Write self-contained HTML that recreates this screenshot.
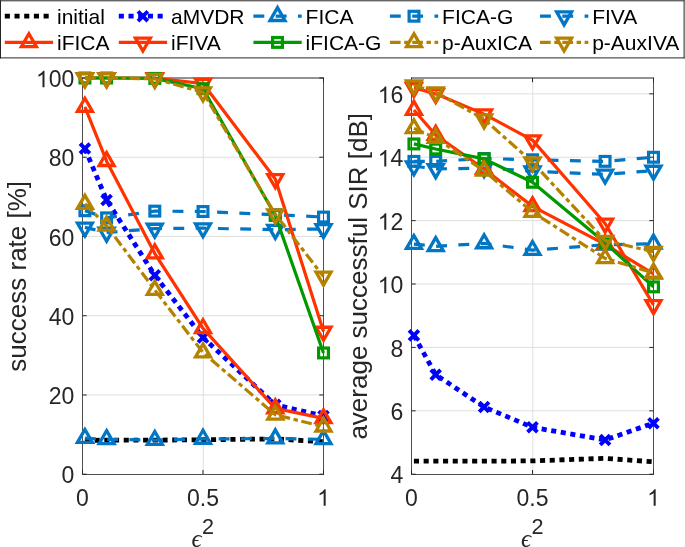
<!DOCTYPE html>
<html><head><meta charset="utf-8"><style>html,body{margin:0;padding:0;background:#fff;}svg{display:block;} text{}</style></head>
<body>
<svg style="filter:grayscale(0.0001)" width="685" height="547" viewBox="0 0 685 547" font-family="Liberation Sans, sans-serif">
<defs><clipPath id="cl"><rect x="82.5" y="78.0" width="241.0" height="396.2"/></clipPath><clipPath id="cr"><rect x="411.5" y="78.0" width="242.0" height="396.2"/></clipPath></defs>
<rect width="685" height="547" fill="#fff"/>
<line x1="82.5" y1="394.96" x2="323.5" y2="394.96" stroke="#DFDFDF" stroke-width="1"/>
<line x1="82.5" y1="315.72" x2="323.5" y2="315.72" stroke="#DFDFDF" stroke-width="1"/>
<line x1="82.5" y1="236.48" x2="323.5" y2="236.48" stroke="#DFDFDF" stroke-width="1"/>
<line x1="82.5" y1="157.24" x2="323.5" y2="157.24" stroke="#DFDFDF" stroke-width="1"/>
<line x1="203.30" y1="78.0" x2="203.30" y2="474.2" stroke="#DFDFDF" stroke-width="1"/>
<line x1="411.5" y1="410.81" x2="653.5" y2="410.81" stroke="#DFDFDF" stroke-width="1"/>
<line x1="411.5" y1="347.42" x2="653.5" y2="347.42" stroke="#DFDFDF" stroke-width="1"/>
<line x1="411.5" y1="284.02" x2="653.5" y2="284.02" stroke="#DFDFDF" stroke-width="1"/>
<line x1="411.5" y1="220.63" x2="653.5" y2="220.63" stroke="#DFDFDF" stroke-width="1"/>
<line x1="411.5" y1="157.24" x2="653.5" y2="157.24" stroke="#DFDFDF" stroke-width="1"/>
<line x1="411.5" y1="93.85" x2="653.5" y2="93.85" stroke="#DFDFDF" stroke-width="1"/>
<line x1="532.80" y1="78.0" x2="532.80" y2="474.2" stroke="#DFDFDF" stroke-width="1"/>
<line x1="82.0" y1="78.0" x2="324.0" y2="78.0" stroke="#262626" stroke-width="1"/>
<line x1="82.0" y1="474.5" x2="324.0" y2="474.5" stroke="#4F4F4F" stroke-width="1"/>
<line x1="82.5" y1="77.5" x2="82.5" y2="475" stroke="#4F4F4F" stroke-width="1"/>
<line x1="323.5" y1="77.5" x2="323.5" y2="475" stroke="#4F4F4F" stroke-width="1"/>
<line x1="82.5" y1="474.20" x2="86.7" y2="474.20" stroke="#262626" stroke-width="1"/>
<line x1="323.5" y1="474.20" x2="319.3" y2="474.20" stroke="#262626" stroke-width="1"/>
<line x1="82.5" y1="394.96" x2="86.7" y2="394.96" stroke="#262626" stroke-width="1"/>
<line x1="323.5" y1="394.96" x2="319.3" y2="394.96" stroke="#262626" stroke-width="1"/>
<line x1="82.5" y1="315.72" x2="86.7" y2="315.72" stroke="#262626" stroke-width="1"/>
<line x1="323.5" y1="315.72" x2="319.3" y2="315.72" stroke="#262626" stroke-width="1"/>
<line x1="82.5" y1="236.48" x2="86.7" y2="236.48" stroke="#262626" stroke-width="1"/>
<line x1="323.5" y1="236.48" x2="319.3" y2="236.48" stroke="#262626" stroke-width="1"/>
<line x1="82.5" y1="157.24" x2="86.7" y2="157.24" stroke="#262626" stroke-width="1"/>
<line x1="323.5" y1="157.24" x2="319.3" y2="157.24" stroke="#262626" stroke-width="1"/>
<line x1="82.5" y1="78.00" x2="86.7" y2="78.00" stroke="#262626" stroke-width="1"/>
<line x1="323.5" y1="78.00" x2="319.3" y2="78.00" stroke="#262626" stroke-width="1"/>
<line x1="82.50" y1="474.2" x2="82.50" y2="470.0" stroke="#262626" stroke-width="1"/>
<line x1="82.50" y1="78.0" x2="82.50" y2="82.2" stroke="#262626" stroke-width="1"/>
<line x1="203.00" y1="474.2" x2="203.00" y2="470.0" stroke="#262626" stroke-width="1"/>
<line x1="203.00" y1="78.0" x2="203.00" y2="82.2" stroke="#262626" stroke-width="1"/>
<line x1="323.50" y1="474.2" x2="323.50" y2="470.0" stroke="#262626" stroke-width="1"/>
<line x1="323.50" y1="78.0" x2="323.50" y2="82.2" stroke="#262626" stroke-width="1"/>
<text x="61.51" y="483.40" font-size="23" fill="#262626">0</text>
<text x="48.72" y="404.16" font-size="23" fill="#262626">20</text>
<text x="48.72" y="324.92" font-size="23" fill="#262626">40</text>
<text x="48.72" y="245.68" font-size="23" fill="#262626">60</text>
<text x="48.72" y="166.44" font-size="23" fill="#262626">80</text>
<path transform="translate(35.93,87.20) scale(0.011230,-0.011230)" d="M763 0L583 0L583 1147Q518 1085 412 1023Q307 961 223 930L223 1104Q374 1175 487 1276Q600 1377 647 1472L763 1472Z" fill="#262626"/><text x="48.72" y="87.20" font-size="23" fill="#262626">00</text>
<text x="76.10" y="505.80" font-size="23" fill="#262626">0</text>
<text x="187.01" y="505.80" font-size="23" fill="#262626">0.5</text>
<path transform="translate(317.10,505.80) scale(0.011230,-0.011230)" d="M763 0L583 0L583 1147Q518 1085 412 1023Q307 961 223 930L223 1104Q374 1175 487 1276Q600 1377 647 1472L763 1472Z" fill="#262626"/>
<line x1="411.0" y1="78.0" x2="654.0" y2="78.0" stroke="#262626" stroke-width="1"/>
<line x1="411.0" y1="474.5" x2="654.0" y2="474.5" stroke="#4F4F4F" stroke-width="1"/>
<line x1="411.5" y1="77.5" x2="411.5" y2="475" stroke="#4F4F4F" stroke-width="1"/>
<line x1="653.5" y1="77.5" x2="653.5" y2="475" stroke="#4F4F4F" stroke-width="1"/>
<line x1="411.5" y1="474.20" x2="415.7" y2="474.20" stroke="#262626" stroke-width="1"/>
<line x1="653.5" y1="474.20" x2="649.3" y2="474.20" stroke="#262626" stroke-width="1"/>
<line x1="411.5" y1="410.81" x2="415.7" y2="410.81" stroke="#262626" stroke-width="1"/>
<line x1="653.5" y1="410.81" x2="649.3" y2="410.81" stroke="#262626" stroke-width="1"/>
<line x1="411.5" y1="347.42" x2="415.7" y2="347.42" stroke="#262626" stroke-width="1"/>
<line x1="653.5" y1="347.42" x2="649.3" y2="347.42" stroke="#262626" stroke-width="1"/>
<line x1="411.5" y1="284.02" x2="415.7" y2="284.02" stroke="#262626" stroke-width="1"/>
<line x1="653.5" y1="284.02" x2="649.3" y2="284.02" stroke="#262626" stroke-width="1"/>
<line x1="411.5" y1="220.63" x2="415.7" y2="220.63" stroke="#262626" stroke-width="1"/>
<line x1="653.5" y1="220.63" x2="649.3" y2="220.63" stroke="#262626" stroke-width="1"/>
<line x1="411.5" y1="157.24" x2="415.7" y2="157.24" stroke="#262626" stroke-width="1"/>
<line x1="653.5" y1="157.24" x2="649.3" y2="157.24" stroke="#262626" stroke-width="1"/>
<line x1="411.5" y1="93.85" x2="415.7" y2="93.85" stroke="#262626" stroke-width="1"/>
<line x1="653.5" y1="93.85" x2="649.3" y2="93.85" stroke="#262626" stroke-width="1"/>
<line x1="411.50" y1="474.2" x2="411.50" y2="470.0" stroke="#262626" stroke-width="1"/>
<line x1="411.50" y1="78.0" x2="411.50" y2="82.2" stroke="#262626" stroke-width="1"/>
<line x1="532.50" y1="474.2" x2="532.50" y2="470.0" stroke="#262626" stroke-width="1"/>
<line x1="532.50" y1="78.0" x2="532.50" y2="82.2" stroke="#262626" stroke-width="1"/>
<line x1="653.50" y1="474.2" x2="653.50" y2="470.0" stroke="#262626" stroke-width="1"/>
<line x1="653.50" y1="78.0" x2="653.50" y2="82.2" stroke="#262626" stroke-width="1"/>
<text x="390.51" y="483.40" font-size="23" fill="#262626">4</text>
<text x="390.51" y="420.01" font-size="23" fill="#262626">6</text>
<text x="390.51" y="356.62" font-size="23" fill="#262626">8</text>
<path transform="translate(377.72,293.22) scale(0.011230,-0.011230)" d="M763 0L583 0L583 1147Q518 1085 412 1023Q307 961 223 930L223 1104Q374 1175 487 1276Q600 1377 647 1472L763 1472Z" fill="#262626"/><text x="390.51" y="293.22" font-size="23" fill="#262626">0</text>
<path transform="translate(377.72,229.83) scale(0.011230,-0.011230)" d="M763 0L583 0L583 1147Q518 1085 412 1023Q307 961 223 930L223 1104Q374 1175 487 1276Q600 1377 647 1472L763 1472Z" fill="#262626"/><text x="390.51" y="229.83" font-size="23" fill="#262626">2</text>
<path transform="translate(377.72,166.44) scale(0.011230,-0.011230)" d="M763 0L583 0L583 1147Q518 1085 412 1023Q307 961 223 930L223 1104Q374 1175 487 1276Q600 1377 647 1472L763 1472Z" fill="#262626"/><text x="390.51" y="166.44" font-size="23" fill="#262626">4</text>
<path transform="translate(377.72,103.05) scale(0.011230,-0.011230)" d="M763 0L583 0L583 1147Q518 1085 412 1023Q307 961 223 930L223 1104Q374 1175 487 1276Q600 1377 647 1472L763 1472Z" fill="#262626"/><text x="390.51" y="103.05" font-size="23" fill="#262626">6</text>
<text x="405.10" y="505.80" font-size="23" fill="#262626">0</text>
<text x="516.51" y="505.80" font-size="23" fill="#262626">0.5</text>
<path transform="translate(647.10,505.80) scale(0.011230,-0.011230)" d="M763 0L583 0L583 1147Q518 1085 412 1023Q307 961 223 930L223 1104Q374 1175 487 1276Q600 1377 647 1472L763 1472Z" fill="#262626"/>
<polyline points="84.91,440.52 106.60,440.13 154.80,440.13 203.00,439.73 275.30,438.94 323.50,441.71" fill="none" stroke="#000000" stroke-width="4.8" stroke-dasharray="5.1 4.6" stroke-linejoin="round"/>
<polyline points="84.91,148.52 106.60,200.03 154.80,275.31 203.00,337.51 275.30,404.87 323.50,415.96" fill="none" stroke="#0000FF" stroke-width="4.8" stroke-dasharray="5.1 4.6" stroke-linejoin="round"/>
<path d="M80.01,143.62L89.81,153.42M89.81,143.62L80.01,153.42" stroke="#0000FF" stroke-width="3.9" fill="none"/>
<path d="M101.70,195.13L111.50,204.93M111.50,195.13L101.70,204.93" stroke="#0000FF" stroke-width="3.9" fill="none"/>
<path d="M149.90,270.41L159.70,280.21M159.70,270.41L149.90,280.21" stroke="#0000FF" stroke-width="3.9" fill="none"/>
<path d="M198.10,332.61L207.90,342.41M207.90,332.61L198.10,342.41" stroke="#0000FF" stroke-width="3.9" fill="none"/>
<path d="M270.40,399.97L280.20,409.76M280.20,399.97L270.40,409.76" stroke="#0000FF" stroke-width="3.9" fill="none"/>
<path d="M318.60,411.06L328.40,420.86M328.40,411.06L318.60,420.86" stroke="#0000FF" stroke-width="3.9" fill="none"/>
<polyline points="84.91,438.15 106.60,439.33 154.80,440.13 203.00,438.94 275.30,438.54 323.50,439.33" fill="none" stroke="#0076C4" stroke-width="3.2" stroke-dasharray="10.9 11.4" stroke-linejoin="round"/>
<path d="M84.91,429.51L92.39,442.47L77.43,442.47Z" fill="none" stroke="#0076C4" stroke-width="3.3" stroke-linejoin="miter" stroke-miterlimit="10"/>
<path d="M106.60,430.69L114.08,443.65L99.12,443.65Z" fill="none" stroke="#0076C4" stroke-width="3.3" stroke-linejoin="miter" stroke-miterlimit="10"/>
<path d="M154.80,431.49L162.28,444.45L147.32,444.45Z" fill="none" stroke="#0076C4" stroke-width="3.3" stroke-linejoin="miter" stroke-miterlimit="10"/>
<path d="M203.00,430.30L210.48,443.26L195.52,443.26Z" fill="none" stroke="#0076C4" stroke-width="3.3" stroke-linejoin="miter" stroke-miterlimit="10"/>
<path d="M275.30,429.90L282.78,442.86L267.82,442.86Z" fill="none" stroke="#0076C4" stroke-width="3.3" stroke-linejoin="miter" stroke-miterlimit="10"/>
<path d="M323.50,430.69L330.98,443.65L316.02,443.65Z" fill="none" stroke="#0076C4" stroke-width="3.3" stroke-linejoin="miter" stroke-miterlimit="10"/>
<polyline points="84.91,210.73 106.60,217.86 154.80,211.12 203.00,211.52 275.30,214.69 323.50,217.07" fill="none" stroke="#0076C4" stroke-width="3.2" stroke-dasharray="10.9 11.4" stroke-linejoin="round"/>
<rect x="80.01" y="205.83" width="9.80" height="9.80" fill="none" stroke="#0076C4" stroke-width="3.2"/>
<rect x="101.70" y="212.96" width="9.80" height="9.80" fill="none" stroke="#0076C4" stroke-width="3.2"/>
<rect x="149.90" y="206.22" width="9.80" height="9.80" fill="none" stroke="#0076C4" stroke-width="3.2"/>
<rect x="198.10" y="206.62" width="9.80" height="9.80" fill="none" stroke="#0076C4" stroke-width="3.2"/>
<rect x="270.40" y="209.79" width="9.80" height="9.80" fill="none" stroke="#0076C4" stroke-width="3.2"/>
<rect x="318.60" y="212.17" width="9.80" height="9.80" fill="none" stroke="#0076C4" stroke-width="3.2"/>
<polyline points="84.91,227.37 106.60,232.52 154.80,228.56 203.00,228.16 275.30,229.74 323.50,228.95" fill="none" stroke="#0076C4" stroke-width="3.2" stroke-dasharray="10.9 11.4" stroke-linejoin="round"/>
<path d="M84.91,236.01L92.39,223.05L77.43,223.05Z" fill="none" stroke="#0076C4" stroke-width="3.3" stroke-linejoin="miter" stroke-miterlimit="10"/>
<path d="M106.60,241.16L114.08,228.20L99.12,228.20Z" fill="none" stroke="#0076C4" stroke-width="3.3" stroke-linejoin="miter" stroke-miterlimit="10"/>
<path d="M154.80,237.20L162.28,224.24L147.32,224.24Z" fill="none" stroke="#0076C4" stroke-width="3.3" stroke-linejoin="miter" stroke-miterlimit="10"/>
<path d="M203.00,236.80L210.48,223.84L195.52,223.84Z" fill="none" stroke="#0076C4" stroke-width="3.3" stroke-linejoin="miter" stroke-miterlimit="10"/>
<path d="M275.30,238.38L282.78,225.42L267.82,225.42Z" fill="none" stroke="#0076C4" stroke-width="3.3" stroke-linejoin="miter" stroke-miterlimit="10"/>
<path d="M323.50,237.59L330.98,224.63L316.02,224.63Z" fill="none" stroke="#0076C4" stroke-width="3.3" stroke-linejoin="miter" stroke-miterlimit="10"/>
<polyline points="84.91,106.92 106.60,161.20 154.80,253.52 203.00,328.40 275.30,408.43 323.50,418.34" fill="none" stroke="#FF3300" stroke-width="3.2"  stroke-linejoin="round"/>
<path d="M84.91,98.28L92.39,111.24L77.43,111.24Z" fill="none" stroke="#FF3300" stroke-width="3.3" stroke-linejoin="miter" stroke-miterlimit="10"/>
<path d="M106.60,152.56L114.08,165.52L99.12,165.52Z" fill="none" stroke="#FF3300" stroke-width="3.3" stroke-linejoin="miter" stroke-miterlimit="10"/>
<path d="M154.80,244.88L162.28,257.84L147.32,257.84Z" fill="none" stroke="#FF3300" stroke-width="3.3" stroke-linejoin="miter" stroke-miterlimit="10"/>
<path d="M203.00,319.76L210.48,332.72L195.52,332.72Z" fill="none" stroke="#FF3300" stroke-width="3.3" stroke-linejoin="miter" stroke-miterlimit="10"/>
<path d="M275.30,399.79L282.78,412.75L267.82,412.75Z" fill="none" stroke="#FF3300" stroke-width="3.3" stroke-linejoin="miter" stroke-miterlimit="10"/>
<path d="M323.50,409.70L330.98,422.66L316.02,422.66Z" fill="none" stroke="#FF3300" stroke-width="3.3" stroke-linejoin="miter" stroke-miterlimit="10"/>
<polyline points="84.91,78.00 106.60,78.00 154.80,78.00 203.00,83.55 275.30,179.03 323.50,331.57" fill="none" stroke="#FF3300" stroke-width="3.2"  stroke-linejoin="round"/>
<path d="M84.91,86.64L92.39,73.68L77.43,73.68Z" fill="none" stroke="#FF3300" stroke-width="3.3" stroke-linejoin="miter" stroke-miterlimit="10"/>
<path d="M106.60,86.64L114.08,73.68L99.12,73.68Z" fill="none" stroke="#FF3300" stroke-width="3.3" stroke-linejoin="miter" stroke-miterlimit="10"/>
<path d="M154.80,86.64L162.28,73.68L147.32,73.68Z" fill="none" stroke="#FF3300" stroke-width="3.3" stroke-linejoin="miter" stroke-miterlimit="10"/>
<path d="M203.00,92.19L210.48,79.23L195.52,79.23Z" fill="none" stroke="#FF3300" stroke-width="3.3" stroke-linejoin="miter" stroke-miterlimit="10"/>
<path d="M275.30,187.67L282.78,174.71L267.82,174.71Z" fill="none" stroke="#FF3300" stroke-width="3.3" stroke-linejoin="miter" stroke-miterlimit="10"/>
<path d="M323.50,340.21L330.98,327.25L316.02,327.25Z" fill="none" stroke="#FF3300" stroke-width="3.3" stroke-linejoin="miter" stroke-miterlimit="10"/>
<polyline points="84.91,78.00 106.60,78.00 154.80,78.40 203.00,88.70 275.30,215.48 323.50,352.96" fill="none" stroke="#009900" stroke-width="3.2"  stroke-linejoin="round"/>
<rect x="80.01" y="73.10" width="9.80" height="9.80" fill="none" stroke="#009900" stroke-width="3.2"/>
<rect x="101.70" y="73.10" width="9.80" height="9.80" fill="none" stroke="#009900" stroke-width="3.2"/>
<rect x="149.90" y="73.50" width="9.80" height="9.80" fill="none" stroke="#009900" stroke-width="3.2"/>
<rect x="198.10" y="83.80" width="9.80" height="9.80" fill="none" stroke="#009900" stroke-width="3.2"/>
<rect x="270.40" y="210.58" width="9.80" height="9.80" fill="none" stroke="#009900" stroke-width="3.2"/>
<rect x="318.60" y="348.06" width="9.80" height="9.80" fill="none" stroke="#009900" stroke-width="3.2"/>
<polyline points="84.91,203.99 106.60,225.78 154.80,289.97 203.00,352.57 275.30,414.77 323.50,426.66" fill="none" stroke="#B58200" stroke-width="3.2" stroke-dasharray="10.7 3.6 4.4 3.6" stroke-linejoin="round"/>
<path d="M84.91,195.35L92.39,208.31L77.43,208.31Z" fill="none" stroke="#B58200" stroke-width="3.3" stroke-linejoin="miter" stroke-miterlimit="10"/>
<path d="M106.60,217.14L114.08,230.10L99.12,230.10Z" fill="none" stroke="#B58200" stroke-width="3.3" stroke-linejoin="miter" stroke-miterlimit="10"/>
<path d="M154.80,281.33L162.28,294.29L147.32,294.29Z" fill="none" stroke="#B58200" stroke-width="3.3" stroke-linejoin="miter" stroke-miterlimit="10"/>
<path d="M203.00,343.93L210.48,356.89L195.52,356.89Z" fill="none" stroke="#B58200" stroke-width="3.3" stroke-linejoin="miter" stroke-miterlimit="10"/>
<path d="M275.30,406.13L282.78,419.09L267.82,419.09Z" fill="none" stroke="#B58200" stroke-width="3.3" stroke-linejoin="miter" stroke-miterlimit="10"/>
<path d="M323.50,418.02L330.98,430.98L316.02,430.98Z" fill="none" stroke="#B58200" stroke-width="3.3" stroke-linejoin="miter" stroke-miterlimit="10"/>
<polyline points="84.91,78.00 106.60,78.00 154.80,78.79 203.00,92.26 275.30,214.29 323.50,276.50" fill="none" stroke="#B58200" stroke-width="3.2" stroke-dasharray="10.7 3.6 4.4 3.6" stroke-linejoin="round"/>
<path d="M84.91,86.64L92.39,73.68L77.43,73.68Z" fill="none" stroke="#B58200" stroke-width="3.3" stroke-linejoin="miter" stroke-miterlimit="10"/>
<path d="M106.60,86.64L114.08,73.68L99.12,73.68Z" fill="none" stroke="#B58200" stroke-width="3.3" stroke-linejoin="miter" stroke-miterlimit="10"/>
<path d="M154.80,87.43L162.28,74.47L147.32,74.47Z" fill="none" stroke="#B58200" stroke-width="3.3" stroke-linejoin="miter" stroke-miterlimit="10"/>
<path d="M203.00,100.90L210.48,87.94L195.52,87.94Z" fill="none" stroke="#B58200" stroke-width="3.3" stroke-linejoin="miter" stroke-miterlimit="10"/>
<path d="M275.30,222.93L282.78,209.97L267.82,209.97Z" fill="none" stroke="#B58200" stroke-width="3.3" stroke-linejoin="miter" stroke-miterlimit="10"/>
<path d="M323.50,285.14L330.98,272.18L316.02,272.18Z" fill="none" stroke="#B58200" stroke-width="3.3" stroke-linejoin="miter" stroke-miterlimit="10"/>
<polyline points="413.92,461.20 435.70,461.20 484.10,461.20 532.50,460.89 605.10,458.35 653.50,461.84" fill="none" stroke="#000000" stroke-width="4.8" stroke-dasharray="5.1 4.6" stroke-linejoin="round"/>
<polyline points="413.92,335.37 435.70,374.67 484.10,407.00 532.50,427.29 605.10,439.97 653.50,423.17" fill="none" stroke="#0000FF" stroke-width="4.8" stroke-dasharray="5.1 4.6" stroke-linejoin="round"/>
<path d="M409.02,330.47L418.82,340.27M418.82,330.47L409.02,340.27" stroke="#0000FF" stroke-width="3.9" fill="none"/>
<path d="M430.80,369.77L440.60,379.57M440.60,369.77L430.80,379.57" stroke="#0000FF" stroke-width="3.9" fill="none"/>
<path d="M479.20,402.10L489.00,411.90M489.00,402.10L479.20,411.90" stroke="#0000FF" stroke-width="3.9" fill="none"/>
<path d="M527.60,422.39L537.40,432.19M537.40,422.39L527.60,432.19" stroke="#0000FF" stroke-width="3.9" fill="none"/>
<path d="M600.20,435.07L610.00,444.87M610.00,435.07L600.20,444.87" stroke="#0000FF" stroke-width="3.9" fill="none"/>
<path d="M648.60,418.27L658.40,428.07M658.40,418.27L648.60,428.07" stroke="#0000FF" stroke-width="3.9" fill="none"/>
<polyline points="413.92,244.09 435.70,246.31 484.10,243.45 532.50,250.11 605.10,244.72 653.50,243.77" fill="none" stroke="#0076C4" stroke-width="3.2" stroke-dasharray="10.9 11.4" stroke-linejoin="round"/>
<path d="M413.92,235.45L421.40,248.41L406.44,248.41Z" fill="none" stroke="#0076C4" stroke-width="3.3" stroke-linejoin="miter" stroke-miterlimit="10"/>
<path d="M435.70,237.67L443.18,250.63L428.22,250.63Z" fill="none" stroke="#0076C4" stroke-width="3.3" stroke-linejoin="miter" stroke-miterlimit="10"/>
<path d="M484.10,234.81L491.58,247.77L476.62,247.77Z" fill="none" stroke="#0076C4" stroke-width="3.3" stroke-linejoin="miter" stroke-miterlimit="10"/>
<path d="M532.50,241.47L539.98,254.43L525.02,254.43Z" fill="none" stroke="#0076C4" stroke-width="3.3" stroke-linejoin="miter" stroke-miterlimit="10"/>
<path d="M605.10,236.08L612.58,249.04L597.62,249.04Z" fill="none" stroke="#0076C4" stroke-width="3.3" stroke-linejoin="miter" stroke-miterlimit="10"/>
<path d="M653.50,235.13L660.98,248.09L646.02,248.09Z" fill="none" stroke="#0076C4" stroke-width="3.3" stroke-linejoin="miter" stroke-miterlimit="10"/>
<polyline points="413.92,161.36 435.70,161.36 484.10,158.51 532.50,159.78 605.10,161.36 653.50,157.24" fill="none" stroke="#0076C4" stroke-width="3.2" stroke-dasharray="10.9 11.4" stroke-linejoin="round"/>
<rect x="409.02" y="156.46" width="9.80" height="9.80" fill="none" stroke="#0076C4" stroke-width="3.2"/>
<rect x="430.80" y="156.46" width="9.80" height="9.80" fill="none" stroke="#0076C4" stroke-width="3.2"/>
<rect x="479.20" y="153.61" width="9.80" height="9.80" fill="none" stroke="#0076C4" stroke-width="3.2"/>
<rect x="527.60" y="154.88" width="9.80" height="9.80" fill="none" stroke="#0076C4" stroke-width="3.2"/>
<rect x="600.20" y="156.46" width="9.80" height="9.80" fill="none" stroke="#0076C4" stroke-width="3.2"/>
<rect x="648.60" y="152.34" width="9.80" height="9.80" fill="none" stroke="#0076C4" stroke-width="3.2"/>
<polyline points="413.92,166.11 435.70,168.97 484.10,168.02 532.50,171.19 605.10,174.36 653.50,170.55" fill="none" stroke="#0076C4" stroke-width="3.2" stroke-dasharray="10.9 11.4" stroke-linejoin="round"/>
<path d="M413.92,174.75L421.40,161.79L406.44,161.79Z" fill="none" stroke="#0076C4" stroke-width="3.3" stroke-linejoin="miter" stroke-miterlimit="10"/>
<path d="M435.70,177.61L443.18,164.65L428.22,164.65Z" fill="none" stroke="#0076C4" stroke-width="3.3" stroke-linejoin="miter" stroke-miterlimit="10"/>
<path d="M484.10,176.66L491.58,163.70L476.62,163.70Z" fill="none" stroke="#0076C4" stroke-width="3.3" stroke-linejoin="miter" stroke-miterlimit="10"/>
<path d="M532.50,179.83L539.98,166.87L525.02,166.87Z" fill="none" stroke="#0076C4" stroke-width="3.3" stroke-linejoin="miter" stroke-miterlimit="10"/>
<path d="M605.10,183.00L612.58,170.04L597.62,170.04Z" fill="none" stroke="#0076C4" stroke-width="3.3" stroke-linejoin="miter" stroke-miterlimit="10"/>
<path d="M653.50,179.19L660.98,166.23L646.02,166.23Z" fill="none" stroke="#0076C4" stroke-width="3.3" stroke-linejoin="miter" stroke-miterlimit="10"/>
<polyline points="413.92,110.01 435.70,135.05 484.10,168.97 532.50,206.37 605.10,244.40 653.50,273.88" fill="none" stroke="#FF3300" stroke-width="3.2"  stroke-linejoin="round"/>
<path d="M413.92,101.37L421.40,114.33L406.44,114.33Z" fill="none" stroke="#FF3300" stroke-width="3.3" stroke-linejoin="miter" stroke-miterlimit="10"/>
<path d="M435.70,126.41L443.18,139.37L428.22,139.37Z" fill="none" stroke="#FF3300" stroke-width="3.3" stroke-linejoin="miter" stroke-miterlimit="10"/>
<path d="M484.10,160.33L491.58,173.29L476.62,173.29Z" fill="none" stroke="#FF3300" stroke-width="3.3" stroke-linejoin="miter" stroke-miterlimit="10"/>
<path d="M532.50,197.73L539.98,210.69L525.02,210.69Z" fill="none" stroke="#FF3300" stroke-width="3.3" stroke-linejoin="miter" stroke-miterlimit="10"/>
<path d="M605.10,235.76L612.58,248.72L597.62,248.72Z" fill="none" stroke="#FF3300" stroke-width="3.3" stroke-linejoin="miter" stroke-miterlimit="10"/>
<path d="M653.50,265.24L660.98,278.20L646.02,278.20Z" fill="none" stroke="#FF3300" stroke-width="3.3" stroke-linejoin="miter" stroke-miterlimit="10"/>
<polyline points="413.92,87.83 435.70,93.85 484.10,114.13 532.50,140.12 605.10,223.48 653.50,304.94" fill="none" stroke="#FF3300" stroke-width="3.2"  stroke-linejoin="round"/>
<path d="M413.92,96.47L421.40,83.51L406.44,83.51Z" fill="none" stroke="#FF3300" stroke-width="3.3" stroke-linejoin="miter" stroke-miterlimit="10"/>
<path d="M435.70,102.49L443.18,89.53L428.22,89.53Z" fill="none" stroke="#FF3300" stroke-width="3.3" stroke-linejoin="miter" stroke-miterlimit="10"/>
<path d="M484.10,122.77L491.58,109.81L476.62,109.81Z" fill="none" stroke="#FF3300" stroke-width="3.3" stroke-linejoin="miter" stroke-miterlimit="10"/>
<path d="M532.50,148.76L539.98,135.80L525.02,135.80Z" fill="none" stroke="#FF3300" stroke-width="3.3" stroke-linejoin="miter" stroke-miterlimit="10"/>
<path d="M605.10,232.12L612.58,219.16L597.62,219.16Z" fill="none" stroke="#FF3300" stroke-width="3.3" stroke-linejoin="miter" stroke-miterlimit="10"/>
<path d="M653.50,313.58L660.98,300.62L646.02,300.62Z" fill="none" stroke="#FF3300" stroke-width="3.3" stroke-linejoin="miter" stroke-miterlimit="10"/>
<polyline points="413.92,143.93 435.70,149.00 484.10,158.82 532.50,182.28 605.10,242.82 653.50,286.88" fill="none" stroke="#009900" stroke-width="3.2"  stroke-linejoin="round"/>
<rect x="409.02" y="139.03" width="9.80" height="9.80" fill="none" stroke="#009900" stroke-width="3.2"/>
<rect x="430.80" y="144.10" width="9.80" height="9.80" fill="none" stroke="#009900" stroke-width="3.2"/>
<rect x="479.20" y="153.92" width="9.80" height="9.80" fill="none" stroke="#009900" stroke-width="3.2"/>
<rect x="527.60" y="177.38" width="9.80" height="9.80" fill="none" stroke="#009900" stroke-width="3.2"/>
<rect x="600.20" y="237.92" width="9.80" height="9.80" fill="none" stroke="#009900" stroke-width="3.2"/>
<rect x="648.60" y="281.98" width="9.80" height="9.80" fill="none" stroke="#009900" stroke-width="3.2"/>
<polyline points="413.92,128.40 435.70,137.91 484.10,170.87 532.50,212.07 605.10,258.35 653.50,272.93" fill="none" stroke="#B58200" stroke-width="3.2" stroke-dasharray="10.7 3.6 4.4 3.6" stroke-linejoin="round"/>
<path d="M413.92,119.76L421.40,132.72L406.44,132.72Z" fill="none" stroke="#B58200" stroke-width="3.3" stroke-linejoin="miter" stroke-miterlimit="10"/>
<path d="M435.70,129.27L443.18,142.23L428.22,142.23Z" fill="none" stroke="#B58200" stroke-width="3.3" stroke-linejoin="miter" stroke-miterlimit="10"/>
<path d="M484.10,162.23L491.58,175.19L476.62,175.19Z" fill="none" stroke="#B58200" stroke-width="3.3" stroke-linejoin="miter" stroke-miterlimit="10"/>
<path d="M532.50,203.43L539.98,216.39L525.02,216.39Z" fill="none" stroke="#B58200" stroke-width="3.3" stroke-linejoin="miter" stroke-miterlimit="10"/>
<path d="M605.10,249.71L612.58,262.67L597.62,262.67Z" fill="none" stroke="#B58200" stroke-width="3.3" stroke-linejoin="miter" stroke-miterlimit="10"/>
<path d="M653.50,264.29L660.98,277.25L646.02,277.25Z" fill="none" stroke="#B58200" stroke-width="3.3" stroke-linejoin="miter" stroke-miterlimit="10"/>
<polyline points="413.92,85.29 435.70,92.26 484.10,119.20 532.50,162.31 605.10,240.60 653.50,251.69" fill="none" stroke="#B58200" stroke-width="3.2" stroke-dasharray="10.7 3.6 4.4 3.6" stroke-linejoin="round"/>
<path d="M413.92,93.93L421.40,80.97L406.44,80.97Z" fill="none" stroke="#B58200" stroke-width="3.3" stroke-linejoin="miter" stroke-miterlimit="10"/>
<path d="M435.70,100.90L443.18,87.94L428.22,87.94Z" fill="none" stroke="#B58200" stroke-width="3.3" stroke-linejoin="miter" stroke-miterlimit="10"/>
<path d="M484.10,127.84L491.58,114.88L476.62,114.88Z" fill="none" stroke="#B58200" stroke-width="3.3" stroke-linejoin="miter" stroke-miterlimit="10"/>
<path d="M532.50,170.95L539.98,157.99L525.02,157.99Z" fill="none" stroke="#B58200" stroke-width="3.3" stroke-linejoin="miter" stroke-miterlimit="10"/>
<path d="M605.10,249.24L612.58,236.28L597.62,236.28Z" fill="none" stroke="#B58200" stroke-width="3.3" stroke-linejoin="miter" stroke-miterlimit="10"/>
<path d="M653.50,260.33L660.98,247.37L646.02,247.37Z" fill="none" stroke="#B58200" stroke-width="3.3" stroke-linejoin="miter" stroke-miterlimit="10"/>
<text transform="translate(26.3,276.3) rotate(-90)" text-anchor="middle" font-size="26" fill="#262626">success rate [%]</text>
<text transform="translate(367.4,276.3) rotate(-90)" text-anchor="middle" font-size="26" fill="#262626">average successful SIR [dB]</text>
<text x="191.5" y="547.0" font-size="25" font-family="Liberation Serif" font-style="italic" fill="#262626">&#x3F5;</text><text x="202.0" y="533.9" font-size="21.6" fill="#262626">2</text>
<text x="521.0" y="547.0" font-size="25" font-family="Liberation Serif" font-style="italic" fill="#262626">&#x3F5;</text><text x="531.5" y="533.9" font-size="21.6" fill="#262626">2</text>
<rect x="0.5" y="0.8" width="683.6" height="57.1" fill="#fff"/>
<line x1="0" y1="0.8" x2="684.6" y2="0.8" stroke="#262626" stroke-width="1"/>
<line x1="0" y1="57.9" x2="684.6" y2="57.9" stroke="#262626" stroke-width="1"/>
<line x1="0.5" y1="0.3" x2="0.5" y2="58.4" stroke="#262626" stroke-width="1"/>
<line x1="684.1" y1="0.3" x2="684.1" y2="58.4" stroke="#262626" stroke-width="1"/>
<line x1="4.8" y1="16.2" x2="49.4" y2="16.2" stroke="#000000" stroke-width="4.8" stroke-dasharray="5.1 4.6"/>
<text x="57.0" y="24.2" font-size="21" fill="#000">initial</text>
<line x1="118.8" y1="16.2" x2="163.4" y2="16.2" stroke="#0000FF" stroke-width="4.8" stroke-dasharray="5.1 4.6"/>
<path d="M138.00,11.30L147.80,21.10M147.80,11.30L138.00,21.10" stroke="#0000FF" stroke-width="3.9" fill="none"/>
<text x="171.0" y="24.2" font-size="21" fill="#000">aMVDR</text>
<line x1="253.4" y1="16.2" x2="301.7" y2="16.2" stroke="#0076C4" stroke-width="3.2" stroke-dasharray="10.9 11.4"/>
<path d="M277.50,7.56L284.98,20.52L270.02,20.52Z" fill="none" stroke="#0076C4" stroke-width="3.3" stroke-linejoin="miter" stroke-miterlimit="10"/>
<text x="305.6" y="24.2" font-size="21" fill="#000">FICA</text>
<line x1="389.9" y1="16.2" x2="438.2" y2="16.2" stroke="#0076C4" stroke-width="3.2" stroke-dasharray="10.9 11.4"/>
<rect x="409.10" y="11.30" width="9.80" height="9.80" fill="none" stroke="#0076C4" stroke-width="3.2"/>
<text x="442.1" y="24.2" font-size="21" fill="#000">FICA-G</text>
<line x1="540.0" y1="16.2" x2="588.3" y2="16.2" stroke="#0076C4" stroke-width="3.2" stroke-dasharray="10.9 11.4"/>
<path d="M564.10,24.84L571.58,11.88L556.62,11.88Z" fill="none" stroke="#0076C4" stroke-width="3.3" stroke-linejoin="miter" stroke-miterlimit="10"/>
<text x="592.2" y="24.2" font-size="21" fill="#000">FIVA</text>
<line x1="4.8" y1="42.4" x2="53.099999999999994" y2="42.4" stroke="#FF3300" stroke-width="3.2" />
<path d="M28.90,33.76L36.38,46.72L21.42,46.72Z" fill="none" stroke="#FF3300" stroke-width="3.3" stroke-linejoin="miter" stroke-miterlimit="10"/>
<text x="57.0" y="50.4" font-size="21" fill="#000">iFICA</text>
<line x1="118.8" y1="42.4" x2="167.1" y2="42.4" stroke="#FF3300" stroke-width="3.2" />
<path d="M142.90,51.04L150.38,38.08L135.42,38.08Z" fill="none" stroke="#FF3300" stroke-width="3.3" stroke-linejoin="miter" stroke-miterlimit="10"/>
<text x="171.0" y="50.4" font-size="21" fill="#000">iFIVA</text>
<line x1="253.4" y1="42.4" x2="301.7" y2="42.4" stroke="#009900" stroke-width="3.2" />
<rect x="272.60" y="37.50" width="9.80" height="9.80" fill="none" stroke="#009900" stroke-width="3.2"/>
<text x="305.6" y="50.4" font-size="21" fill="#000">iFICA-G</text>
<line x1="389.9" y1="42.4" x2="438.2" y2="42.4" stroke="#B58200" stroke-width="3.2" stroke-dasharray="10.7 3.6 4.4 3.6"/>
<path d="M414.00,33.76L421.48,46.72L406.52,46.72Z" fill="none" stroke="#B58200" stroke-width="3.3" stroke-linejoin="miter" stroke-miterlimit="10"/>
<text x="442.1" y="50.4" font-size="21" fill="#000">p-AuxICA</text>
<line x1="540.0" y1="42.4" x2="588.3" y2="42.4" stroke="#B58200" stroke-width="3.2" stroke-dasharray="10.7 3.6 4.4 3.6"/>
<path d="M564.10,51.04L571.58,38.08L556.62,38.08Z" fill="none" stroke="#B58200" stroke-width="3.3" stroke-linejoin="miter" stroke-miterlimit="10"/>
<text x="592.2" y="50.4" font-size="21" fill="#000">p-AuxIVA</text>
</svg>
</body></html>
